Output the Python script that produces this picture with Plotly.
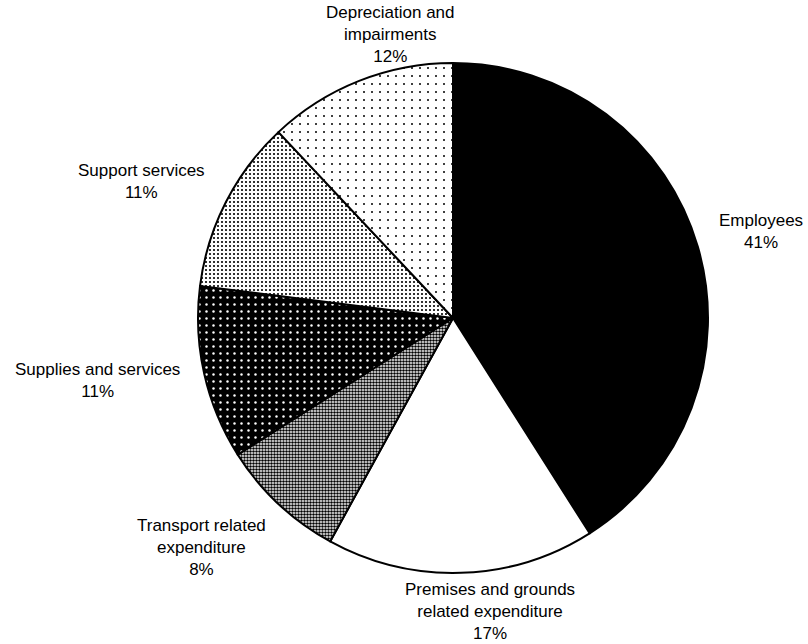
import math
import plotly.graph_objects as go

# Expenditure breakdown (percent of total)
categories = [
    "Employees",
    "Premises and grounds<br>related expenditure",
    "Transport related<br>expenditure",
    "Supplies and services",
    "Support services",
    "Depreciation and<br>impairments",
]
shares = [41, 17, 8, 11, 11, 12]

W, H = 808, 644
CX, CY, R = 453, 318, 255  # pie centre and radius in pixels

# Fill styles per slice: (pattern shape, fg, bg, size, solidity)
fills = [
    ("", "black", "black", 8, 0.3),
    ("", "white", "white", 8, 0.3),
    (".", "black", "white", 3, 0.55),
    (".", "white", "black", 7, 0.1),
    (".", "black", "white", 4, 0.22),
    (".", "black", "white", 8, 0.05),
]
colors = [f[2] for f in fills]
pattern = dict(
    shape=[f[0] for f in fills],
    fgcolor=[f[1] for f in fills],
    bgcolor=[f[2] for f in fills],
    size=[f[3] for f in fills],
    solidity=[f[4] for f in fills],
    fillmode="replace",
)

fig = go.Figure(
    go.Pie(
        labels=categories,
        values=shares,
        sort=False,
        direction="clockwise",
        rotation=0,
        textinfo="none",
        hoverinfo="label+percent",
        marker=dict(colors=colors, pattern=pattern, line=dict(color="black", width=2)),
        domain=dict(
            x=[(CX - R) / W, (CX + R) / W],
            y=[(H - CY - R) / H, (H - CY + R) / H],
        ),
        showlegend=False,
    )
)

# Label placement: radial distance factor and angular nudge (degrees) per slice
label_radius = [1.255, 1.16, 1.335, 1.415, 1.335, 1.14]
label_nudge = [-0.6, 5.4, -4.4, -2.6, 3.4, -9.2]

total = sum(shares)
cum = 0
for name, v, k, dn in zip(categories, shares, label_radius, label_nudge):
    mid = cum + v / 2
    cum += v
    ang = math.radians(90 - 360 * mid / total + dn)
    px = CX + R * k * math.cos(ang)
    py = CY - R * k * math.sin(ang)
    fig.add_annotation(
        x=px / W,
        y=1 - py / H,
        xref="paper",
        yref="paper",
        text=f"{name}<br>{round(100 * v / total)}%",
        showarrow=False,
        xanchor="center",
        yanchor="middle",
        align="center",
        font=dict(family="Liberation Sans, Arial, sans-serif", size=17, color="black"),
    )

fig.update_layout(
    width=W,
    height=H,
    margin=dict(l=0, r=0, t=0, b=0),
    paper_bgcolor="white",
    plot_bgcolor="white",
)

fig.write_html("out.html")
